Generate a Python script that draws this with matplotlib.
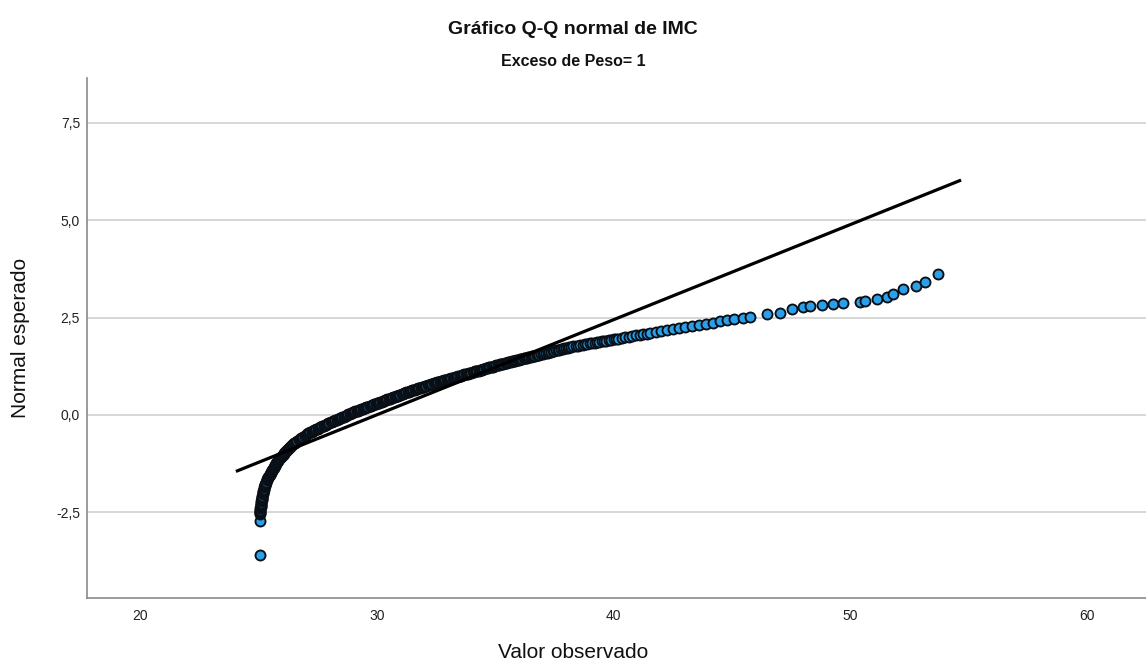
import matplotlib

matplotlib.use("Agg")
import matplotlib.pyplot as plt

plt.rcParams["font.family"] = ["Liberation Sans", "DejaVu Sans"]

# Valores: IMC observado (x) y normal esperado (y), por tramos

# puntos aislados de la cola inferior
aislados_x = [25.07, 25.07]
aislados_y = [-3.60, -2.73]

# columna casi vertical junto a IMC = 25
columna_x = [
    25.07, 25.07, 25.07, 25.07, 25.075, 25.08, 25.09, 25.10, 25.105, 25.11,
    25.12, 25.13, 25.135, 25.14, 25.15, 25.16, 25.17, 25.18, 25.19, 25.20,
    25.21, 25.22, 25.235, 25.25, 25.27, 25.285, 25.30, 25.32, 25.34, 25.355,
    25.37, 25.39, 25.41,
    25.445, 25.47, 25.49, 25.52, 25.54, 25.57, 25.59, 25.61, 25.64, 25.66,
    25.69, 25.71, 25.74, 25.76, 25.79, 25.81, 25.835,
    25.88, 25.915, 25.95, 25.99, 26.03, 26.065, 26.10, 26.14, 26.18, 26.215,
    26.25, 26.29, 26.33, 26.365, 26.40,
    26.45, 26.50, 26.55, 26.60, 26.65, 26.70, 26.75, 26.80, 26.85, 26.90,
    26.95, 27.00, 27.05,
]
columna_y = [
    -2.55, -2.52, -2.49, -2.46, -2.43, -2.40, -2.37, -2.34, -2.31, -2.28,
    -2.25, -2.22, -2.19, -2.16, -2.13, -2.10, -2.07, -2.04, -2.01, -1.98,
    -1.95, -1.92, -1.89, -1.86, -1.83, -1.80, -1.77, -1.74, -1.71, -1.68,
    -1.65, -1.62, -1.59,
    -1.555, -1.53, -1.505, -1.48, -1.455, -1.43, -1.405, -1.38, -1.355, -1.33,
    -1.305, -1.28, -1.255, -1.23, -1.205, -1.18, -1.155,
    -1.125, -1.10, -1.075, -1.05, -1.025, -1.00, -0.975, -0.95, -0.925, -0.90,
    -0.875, -0.85, -0.825, -0.80, -0.775,
    -0.753, -0.731, -0.710, -0.689, -0.667, -0.646, -0.624, -0.603, -0.581, -0.560,
    -0.539, -0.517, -0.496,
]

# tramo denso (IMC 27 a 38)
denso_x = [
    27.10, 27.15, 27.20, 27.25, 27.30, 27.35, 27.40, 27.45, 27.50, 27.55,
    27.60, 27.65, 27.70, 27.75, 27.80, 27.85, 27.90, 27.95, 28.00, 28.05,
    28.10, 28.15, 28.20, 28.25, 28.30, 28.35, 28.40, 28.45, 28.50, 28.55,
    28.60, 28.65, 28.70, 28.75, 28.80, 28.85, 28.90, 28.95, 29.00, 29.05,
    29.10, 29.15, 29.20, 29.25, 29.30, 29.35, 29.40, 29.45, 29.50, 29.55,
    29.60, 29.65, 29.70, 29.75, 29.80, 29.85, 29.90, 29.95, 30.00, 30.05,
    30.10, 30.15, 30.20, 30.25, 30.30, 30.35, 30.40, 30.45, 30.50, 30.55,
    30.60, 30.65, 30.70, 30.75, 30.80, 30.85, 30.90, 30.95, 31.00, 31.05,
    31.10, 31.15, 31.20, 31.25, 31.30, 31.35, 31.40, 31.45, 31.50, 31.55,
    31.60, 31.65, 31.70, 31.75, 31.80, 31.85, 31.90, 31.95, 32.00, 32.05,
    32.10, 32.15, 32.20, 32.25, 32.30, 32.35, 32.40, 32.45, 32.50, 32.55,
    32.60, 32.65, 32.70, 32.75, 32.80, 32.85, 32.90, 32.95, 33.00, 33.05,
    33.10, 33.15, 33.20, 33.25, 33.30, 33.35, 33.40, 33.45, 33.50, 33.55,
    33.60, 33.65, 33.70, 33.75, 33.80, 33.85, 33.90, 33.95, 34.00, 34.05,
    34.10, 34.15, 34.20, 34.25, 34.30, 34.35, 34.40, 34.45, 34.50, 34.55,
    34.60, 34.65, 34.70, 34.75, 34.80, 34.85, 34.90, 34.95, 35.00, 35.05,
    35.10, 35.15, 35.20, 35.25, 35.30, 35.35, 35.40, 35.45, 35.50, 35.55,
    35.60, 35.65, 35.70, 35.75, 35.80, 35.85, 35.90, 35.95, 36.00, 36.05,
    36.10, 36.15, 36.20, 36.25, 36.30, 36.35, 36.40, 36.45, 36.50, 36.55,
    36.60, 36.65, 36.70, 36.75, 36.80, 36.87, 36.94, 37.01, 37.08, 37.15,
    37.22, 37.29, 37.36, 37.43, 37.50, 37.57, 37.64, 37.71, 37.78, 37.85,
    37.92, 37.99, 38.06, 38.13, 38.20,
]
denso_y = [
    -0.470, -0.455, -0.440, -0.425, -0.410, -0.395, -0.380, -0.365, -0.350, -0.335,
    -0.320, -0.305, -0.290, -0.275, -0.260, -0.245, -0.230, -0.215, -0.200, -0.185,
    -0.170, -0.157, -0.144, -0.131, -0.118, -0.105, -0.092, -0.079, -0.066, -0.053,
    -0.040, -0.027, -0.014, -0.001, 0.012, 0.025, 0.038, 0.051, 0.064, 0.077,
    0.090, 0.101, 0.113, 0.124, 0.136, 0.147, 0.158, 0.170, 0.181, 0.193,
    0.204, 0.215, 0.227, 0.238, 0.250, 0.261, 0.272, 0.284, 0.295, 0.306,
    0.318, 0.329, 0.340, 0.351, 0.363, 0.374, 0.385, 0.397, 0.408, 0.420,
    0.431, 0.442, 0.454, 0.465, 0.476, 0.488, 0.499, 0.510, 0.522, 0.533,
    0.545, 0.556, 0.567, 0.579, 0.590, 0.600, 0.610, 0.620, 0.630, 0.640,
    0.650, 0.660, 0.670, 0.680, 0.690, 0.700, 0.710, 0.720, 0.730, 0.740,
    0.750, 0.760, 0.770, 0.780, 0.790, 0.800, 0.810, 0.820, 0.830, 0.840,
    0.850, 0.859, 0.867, 0.876, 0.884, 0.893, 0.901, 0.910, 0.919, 0.927,
    0.936, 0.944, 0.953, 0.961, 0.970, 0.979, 0.987, 0.996, 1.004, 1.013,
    1.021, 1.030, 1.039, 1.047, 1.056, 1.064, 1.073, 1.081, 1.090, 1.099,
    1.107, 1.116, 1.124, 1.133, 1.141, 1.150, 1.159, 1.167, 1.176, 1.184,
    1.193, 1.201, 1.210, 1.219, 1.227, 1.236, 1.244, 1.253, 1.261, 1.270,
    1.279, 1.287, 1.296, 1.304, 1.313, 1.321, 1.330, 1.338, 1.345, 1.353,
    1.360, 1.368, 1.375, 1.383, 1.390, 1.398, 1.405, 1.413, 1.420, 1.428,
    1.435, 1.443, 1.450, 1.458, 1.465, 1.473, 1.480, 1.488, 1.495, 1.503,
    1.510, 1.518, 1.525, 1.533, 1.540, 1.550, 1.561, 1.571, 1.582, 1.592,
    1.603, 1.613, 1.624, 1.634, 1.645, 1.655, 1.666, 1.676, 1.687, 1.697,
    1.708, 1.718, 1.729, 1.739, 1.750,
]

# tramo medio (IMC 38 a 46)
medio_x = [
    38.3, 38.4, 38.5, 38.6, 38.7, 38.8, 38.9, 39.0, 39.1, 39.2,
    39.3, 39.4, 39.5, 39.6, 39.7, 39.8, 39.9, 40.0, 40.1, 40.2,
    40.35, 40.5, 40.65, 40.8, 40.95, 41.1, 41.25, 41.4, 41.55,
    41.8, 42.0, 42.25, 42.5, 42.75, 43.0, 43.3, 43.6, 43.9, 44.2,
    44.5, 44.8, 45.1, 45.45, 45.77,
]
medio_y = [
    1.761, 1.771, 1.782, 1.792, 1.803, 1.814, 1.824, 1.835, 1.845, 1.856,
    1.867, 1.877, 1.888, 1.898, 1.909, 1.920, 1.930, 1.941, 1.951, 1.962,
    1.978, 1.994, 2.010, 2.026, 2.042, 2.057, 2.073, 2.089, 2.105,
    2.12, 2.15, 2.17, 2.20, 2.22, 2.25, 2.28, 2.31, 2.34, 2.37,
    2.40, 2.43, 2.46, 2.49, 2.52,
]

# cola superior, puntos separados
cola_x = [46.48, 47.03, 47.54, 48.00, 48.30, 48.81, 49.27, 49.69, 50.41,
          50.62, 51.13, 51.55, 51.81, 52.23, 52.78, 53.16, 53.71]
cola_y = [2.59, 2.62, 2.72, 2.77, 2.80, 2.82, 2.85, 2.87, 2.90,
          2.93, 2.98, 3.03, 3.11, 3.23, 3.31, 3.41, 3.62]

observado = aislados_x + columna_x + denso_x + medio_x + cola_x
esperado = aislados_y + columna_y + denso_y + medio_y + cola_y

# Recta de referencia normal
recta_x = [24.05, 54.68]
recta_y = [-1.45, 6.03]

yticks = [-2.5, 0.0, 2.5, 5.0, 7.5]
ytick_labels = ["-2,5", "0,0", "2,5", "5,0", "7,5"]
xticks = [20, 30, 40, 50, 60]

fig = plt.figure(figsize=(11.46, 6.67), dpi=100)
ax = fig.add_axes([0.0759, 0.1034, 0.9241, 0.7796])

ax.set_xlim(17.76, 62.49)
ax.set_ylim(-4.70, 8.65)

ax.plot(recta_x, recta_y, color="black", linewidth=2.3, zorder=4,
        solid_capstyle="butt")
ax.scatter(observado, esperado, s=52, c="#2b9fe8", edgecolors="#0a0f16",
           linewidths=1.35, zorder=3)

ax.set_yticks(yticks)
ax.set_yticklabels(ytick_labels)
ax.set_xticks(xticks)
ax.tick_params(axis="both", length=0, labelsize=10, colors="#222222")
ax.tick_params(axis="x", pad=8)
ax.tick_params(axis="y", pad=5)

ax.grid(True, axis="y", color="#d4d4d4", linewidth=1.3, zorder=0)
ax.set_axisbelow(True)
for side in ("top", "right"):
    ax.spines[side].set_visible(False)
for side in ("left", "bottom"):
    ax.spines[side].set_color("#8a8a8a")
    ax.spines[side].set_linewidth(1.2)

fig.text(0.5, 1 - 30 / 667, "Gráfico Q-Q normal de IMC", ha="center",
         va="center", fontsize=14, fontweight="bold", color="#111111")
fig.text(0.5, 1 - 62 / 667, "Exceso de Peso= 1", ha="center", va="center",
         fontsize=11.5, fontweight="bold", color="#111111")
fig.text(0.5, 1 - 653 / 667, "Valor observado", ha="center", va="center",
         fontsize=15, color="#111111")
fig.text(21 / 1146, 1 - 338 / 667, "Normal esperado", ha="center", va="center",
         rotation=90, fontsize=15, color="#111111")

fig.savefig("out.png", dpi=100)
